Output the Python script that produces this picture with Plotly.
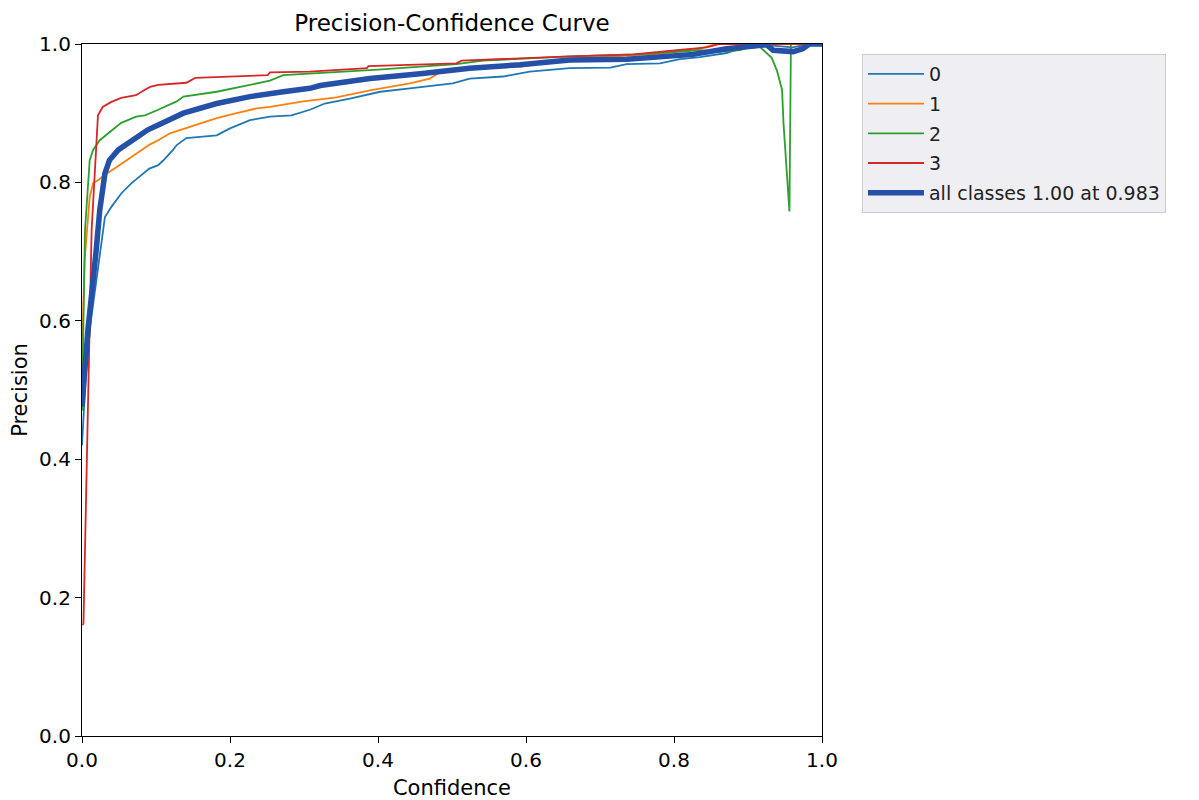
import plotly.graph_objects as go

# ---- data ----
x0 = [0.0, 0.005, 0.012, 0.02, 0.024, 0.031, 0.040, 0.053, 0.067, 0.080, 0.091, 0.103, 0.110, 0.123,
      0.128, 0.141, 0.160, 0.182, 0.200, 0.227, 0.254, 0.283, 0.308, 0.328, 0.362, 0.403, 0.443, 0.501,
      0.524, 0.569, 0.605, 0.659, 0.714, 0.736, 0.781, 0.808, 0.835, 0.857, 0.871, 0.880, 0.900, 0.930,
      0.960, 0.983, 1.0]
y0 = [0.42, 0.52, 0.60, 0.66, 0.69, 0.75, 0.765, 0.784, 0.799, 0.811, 0.820, 0.825, 0.832, 0.847,
      0.854, 0.864, 0.866, 0.868, 0.878, 0.890, 0.895, 0.897, 0.905, 0.914, 0.921, 0.931, 0.936, 0.943,
      0.950, 0.953, 0.960, 0.965, 0.966, 0.971, 0.972, 0.978, 0.981, 0.985, 0.987, 0.990, 0.995, 0.998,
      0.995, 1.0, 1.0]

x1 = [0.0, 0.002, 0.0036, 0.0104, 0.015, 0.0216, 0.031, 0.044, 0.058, 0.071, 0.085, 0.092, 0.103,
      0.119, 0.159, 0.182, 0.209, 0.236, 0.254, 0.272, 0.299, 0.344, 0.389, 0.443, 0.470, 0.488, 0.524,
      0.592, 0.659, 0.72, 0.78, 0.83, 0.857, 0.9, 0.95, 1.0]
y1 = [0.55, 0.62, 0.688, 0.779, 0.799, 0.803, 0.811, 0.820, 0.830, 0.840, 0.849, 0.855, 0.861,
      0.871, 0.885, 0.893, 0.900, 0.907, 0.909, 0.912, 0.917, 0.923, 0.933, 0.943, 0.950, 0.962, 0.965,
      0.967, 0.979, 0.982, 0.986, 0.992, 1.0, 1.0, 1.0, 1.0]

x2 = [0.0, 0.004, 0.0104, 0.015, 0.024, 0.035, 0.044, 0.053, 0.062, 0.073, 0.085, 0.092, 0.103,
      0.128, 0.137, 0.182, 0.227, 0.254, 0.272, 0.308, 0.40, 0.506, 0.542, 0.66, 0.75, 0.835, 0.862,
      0.889, 0.898, 0.916, 0.925, 0.932, 0.939, 0.946, 0.948, 0.952, 0.956, 0.958, 0.97, 1.0]
y2 = [0.47, 0.73, 0.832, 0.847, 0.861, 0.871, 0.878, 0.886, 0.890, 0.895, 0.897, 0.900, 0.905,
      0.917, 0.924, 0.931, 0.941, 0.947, 0.955, 0.957, 0.963, 0.971, 0.976, 0.982, 0.985, 0.991, 0.989,
      0.991, 0.994, 0.996, 0.987, 0.980, 0.962, 0.934, 0.885, 0.823, 0.758, 1.0, 1.0, 1.0]

x3 = [0.001, 0.002, 0.013, 0.0216, 0.028, 0.039, 0.053, 0.073, 0.085, 0.092, 0.103, 0.141, 0.153,
      0.251, 0.254, 0.308, 0.385, 0.387, 0.506, 0.513, 0.659, 0.745, 0.804, 0.844, 0.862, 1.0]
y3 = [0.16, 0.163, 0.731, 0.897, 0.909, 0.916, 0.922, 0.926, 0.934, 0.938, 0.941, 0.944, 0.951,
      0.955, 0.959, 0.960, 0.965, 0.968, 0.972, 0.976, 0.982, 0.985, 0.991, 0.995, 1.0, 1.0]

xa = [0.0, 0.008, 0.019, 0.024, 0.031, 0.037, 0.049, 0.062, 0.076, 0.089, 0.103, 0.137, 0.182, 0.227,
      0.272, 0.308, 0.322, 0.389, 0.457, 0.524, 0.592, 0.659, 0.736, 0.826, 0.871, 0.903, 0.925, 0.934,
      0.961, 0.974, 0.983, 1.0]
ya = [0.476, 0.587, 0.70, 0.76, 0.813, 0.832, 0.847, 0.856, 0.866, 0.876, 0.883, 0.900, 0.914, 0.924,
      0.931, 0.936, 0.940, 0.950, 0.957, 0.965, 0.970, 0.977, 0.978, 0.985, 0.993, 0.997, 0.999, 0.991,
      0.989, 0.993, 1.0, 1.0]

names = ["0", "1", "2", "3"]
all_label = "all classes 1.00 at 0.983"
tick_vals = [0.0, 0.2, 0.4, 0.6, 0.8, 1.0]

colors = ["#1f77b4", "#ff7f0e", "#2ca02c", "#d62728"]
FONT = "DejaVu Sans"

# page body has an 8px margin, so the figure is 8px smaller and margins shifted
W, H = 1191, 792
L, T = 74, 36
PW, PH = 740, 692

fig = go.Figure()
for i, (xs, ys, nm, c) in enumerate(zip([x0, x1, x2, x3], [y0, y1, y2, y3], names, colors)):
    fig.add_trace(go.Scatter(x=xs, y=ys, mode="lines", name=nm, legendgroup=f"g{i}",
                             line=dict(color=c, width=1.8)))
fig.add_trace(go.Scatter(x=xa, y=ya, mode="lines", name=all_label, legendgroup="gall",
                         line=dict(color="#2450a8", width=5.5)))

axis_common = dict(
    range=[0, 1], tickvals=tick_vals, tickformat=".1f", automargin=False,
    showgrid=False, zeroline=False, showline=True, mirror=True,
    linecolor="black", linewidth=1.2, ticks="outside", ticklen=6,
    tickcolor="black", tickwidth=1.2,
    tickfont=dict(family=FONT, size=20, color="black"),
)

fig.update_layout(
    width=W, height=H,
    margin=dict(l=L, r=W - L - PW, t=T, b=H - T - PH, autoexpand=False),
    paper_bgcolor="white", plot_bgcolor="white",
    font=dict(family=FONT, color="black"),
    title=dict(text="Precision-Confidence Curve", x=(L + PW / 2) / W, xanchor="center",
               y=1 - 15 / H, yanchor="middle", font=dict(family=FONT, size=23, color="black")),
    xaxis=dict(axis_common, title=dict(text="Confidence", font=dict(family=FONT, size=21), standoff=10)),
    yaxis=dict(axis_common, title=dict(text="Precision", font=dict(family=FONT, size=21), standoff=8)),
    legend=dict(x=1.054, y=0.9855, xanchor="left", yanchor="top",
                bgcolor="#efeff3", bordercolor="#cccccc", borderwidth=1,
                font=dict(family=FONT, size=19, color="#222222"),
                traceorder="grouped", tracegroupgap=2, itemwidth=56),
    showlegend=True,
)

fig.write_html("out.html")
